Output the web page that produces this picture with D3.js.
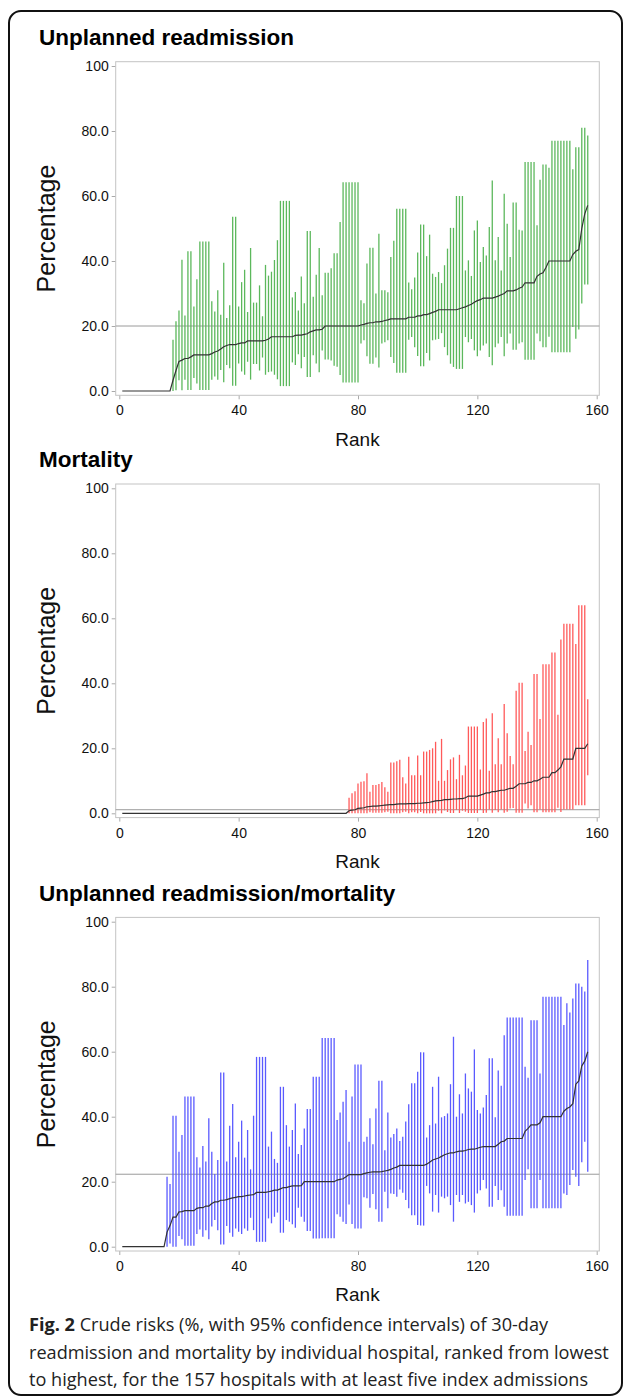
<!DOCTYPE html>
<html>
<head>
<meta charset="utf-8">
<script src="https://cdn.jsdelivr.net/npm/d3@7"></script>
<style>
body { margin: 0; background: #fff; }
svg text { font-family: "Liberation Sans", Arial, sans-serif; }
svg text.cap { font-family: "Open Sans", "Noto Sans", sans-serif; }
</style>
</head>
<body>
<svg id="fig" width="627" height="1398"></svg>
<script>
// values, one entry per hospital in rank order (1..157)

var xTicks = [0, 40, 80, 120, 160];
var yTicks = [0, 20, 40, 60, 80, 100];

// unplanned readmission
var readmRate = [
  0, 0, 0, 0, 0, 0, 0, 0, 0, 0, 0, 0, 0, 0, 0, 0, 0,
  3.3, 6.3, 9.1, 9.5, 10, 10, 10.5, 11.1, 11.1, 11.1, 11.1, 11.1, 11.1, 11.5, 12, 12.3, 12.9, 13.6, 14,
  14.3, 14.3, 14.3, 14.6, 14.8, 14.8, 15.4, 15.4, 15.4, 15.4, 15.4, 15.4, 15.6, 16,
  16.7, 16.7, 16.7, 16.7, 16.7, 16.7, 16.7, 16.7, 17.1, 17.2, 17.2, 17.4, 17.6, 18.2, 18.5, 18.8, 18.8, 19,
  20, 20, 20, 20, 20, 20, 20, 20, 20, 20, 20, 20,
  20.3, 20.5, 20.8, 21, 21, 21.3, 21.3, 21.4, 21.7, 21.9, 22.2, 22.2, 22.2, 22.2, 22.2, 22.2, 22.7, 22.7, 22.7,
  23.1, 23.1, 23.5, 23.5, 23.8, 24.2, 24.5, 25, 25, 25, 25, 25, 25, 25, 25.3, 25.6, 25.9, 26.3, 26.7, 27.3,
  27.8, 28.1, 28.6, 28.6, 28.6, 28.6, 28.9, 29.2, 29.6, 30,
  30.8, 30.8, 30.8, 31.1, 31.6, 32, 33.3, 33.3, 33.3, 33.3, 35.3, 36, 36.4, 38,
  40, 40, 40, 40, 40, 40, 40, 40, 42, 43, 43.5, 50, 54.5, 57.1
];
var readmLo = [
  null, null, null, null, null, null, null, null, null, null, null, null, null, null, null, null, null,
  0, 0.2, 3.3, 0.2, 3.5, 0.3, 0.3, 4, 2.3, 0.3, 0.3, 0.3, 0.3, 3.5, 4.5, 3.5, 6.5, 2.7, 8, 7,
  1.6, 1.6, 8.5, 6, 5, 9, 3.5, 8.3, 8.3, 6.3, 10.3, 5, 5.8, 6, 5, 3.6, 1.5, 1.5, 1.5, 1.5,
  8.8, 8, 11.3, 7, 10.5, 4.3, 4.3, 11, 8.5, 5.8, 12.5, 9.7, 9.7, 9.4, 7.8, 7.5, 4.9,
  2.6, 2.6, 2.6, 2.6, 2.6, 2.6,
  14.6, 15.6, 10.7, 8.4, 8.4, 10.3, 7.2, 14.6, 15, 15.6, 10.5, 8.6, 5.6, 5.6, 5.6, 5.6, 15.8, 16.6, 13.5,
  10.8, 7.6, 7.6, 11.7, 9.4, 15.6, 15.8, 16, 17.8, 13.5, 11, 8.4, 7.4, 6.8, 6.8, 6.8, 16.6, 15, 16, 12.5,
  10.7, 12.5, 14, 14.6, 10.5, 7.9, 13.5, 14.6, 16.6, 10.7,
  14.6, 17.7, 12.7, 12.7, 14.6, 15, 9.6, 9.6, 9.6, 9.6, 17.7, 15.3, 13.5, 13.5,
  16.7, 11.9, 11.9, 11.9, 11.9, 11.9, 11.9, 11.9, 19.7, 16.1, 18.9, 26.9, 32.8, 32.8
];
var readmHi = [
  null, null, null, null, null, null, null, null, null, null, null, null, null, null, null, null, null,
  15.8, 21.5, 24.8, 40.4, 23.2, 43, 43, 26, 34.4, 46, 46, 46, 46, 27.6, 24.5, 31, 23.5, 39.5, 22.5, 26.4,
  53.6, 53.6, 26, 33.5, 37.3, 24.3, 44, 27.2, 27.2, 32.5, 23, 38.8, 35.5, 36.7, 40.3, 46.4, 58.5, 58.5, 58.5, 58.5,
  28.8, 30.5, 24.8, 35.2, 27, 49.2, 49.2, 29, 35.8, 44, 29.5, 36.4, 36.4, 37.8, 42.4, 42.4, 52,
  64.2, 64.2, 64.2, 64.2, 64.2, 64.2,
  27.9, 27, 39.2, 44.1, 44.1, 30, 48.4, 31, 31, 30.4, 41.2, 46.2, 56.1, 56.1, 56.1, 56.1, 33.4, 31.3, 34.9,
  42.6, 51.2, 51.2, 41.5, 48.1, 36.1, 35.1, 36.6, 33.2, 38.7, 43.8, 50.2, 50.2, 60, 60, 60, 37.1, 40.2, 35.4, 49.4,
  52.5, 39.7, 44.3, 41.7, 50.5, 64.8, 40.2, 47.4, 37.1, 60.7,
  51.5, 41.2, 58, 58, 49.6, 49.4, 70.5, 70.5, 70.5, 70.5, 51, 65, 69.7, 69.7,
  68.7, 77, 77, 77, 77, 77, 77, 77, 68.2, 75, 75, 81, 81, 78.6
];
var readmRef = 20.0;

// mortality
var mortRate = [
  0, 0, 0, 0, 0, 0, 0, 0, 0, 0, 0, 0, 0, 0, 0, 0, 0, 0, 0, 0, 0, 0, 0, 0, 0, 0,
  0, 0, 0, 0, 0, 0, 0, 0, 0, 0, 0, 0, 0, 0, 0, 0, 0, 0, 0, 0, 0, 0, 0, 0, 0,
  0, 0, 0, 0, 0, 0, 0, 0, 0, 0, 0, 0, 0, 0, 0, 0, 0, 0, 0, 0, 0, 0, 0, 0, 0,
  0.8, 1.0, 1.1, 1.5, 1.6, 1.7, 2.0, 2.1, 2.2, 2.2,
  2.3, 2.4, 2.5, 2.6, 2.7, 2.7, 2.8, 2.9, 2.9, 2.9,
  3.0, 3.0, 3.0, 3.1, 3.1, 3.2, 3.3, 3.4, 3.6, 3.8,
  3.9, 4.0, 4.2, 4.2, 4.3, 4.4, 4.4, 4.5, 4.5, 4.8,
  5.3, 5.3, 5.3, 5.3, 5.6, 5.9, 6.3, 6.3, 6.7, 6.7,
  6.9, 7.1, 7.1, 7.4, 7.7, 7.7, 8.3, 9.1, 9.1, 9.1,
  9.5, 9.5, 10, 10, 10.5, 11.1, 11.1, 11.1, 12.5, 12.5,
  13.3, 14.3, 16.7, 16.7, 16.7, 16.7, 20, 20, 20, 20,
  21.4
];
var mortLo = [
  null, null, null, null, null, null, null, null, null, null, null, null, null, null, null, null, null, null, null, null, null, null, null, null, null, null,
  null, null, null, null, null, null, null, null, null, null, null, null, null, null, null, null, null, null, null, null, null, null, null, null, null,
  null, null, null, null, null, null, null, null, null, null, null, null, null, null, null, null, null, null, null, null, null, null, null, null, null,
  0, 0, 0, 0, 0, 0, 0, 0.3, 0.2, 0.2,
  0.2, 0.2, 0.3, 0.5, 0, 0, 0, 0, 0.3, 0.5,
  0, 0.3, 0.3, 0, 0.4, 0, 0, 0, 0, 0,
  0.8, 0, 0.9, 0.4, 0.1, 0.1, 1, 0.1, 0.8, 0.5,
  0.1, 0.1, 0.1, 0.1, 1, 0.1, 0.2, 1.2, 0.2, 1,
  0.3, 1.2, 0.2, 0.5, 1.5, 1.6, 0.2, 0.2, 0.2, 3,
  1.5, 2.5, 0.3, 0.3, 1.2, 0.3, 0.3, 0.3, 0.3, 0.3,
  1.7, 0.4, 1.2, 1.2, 1.2, 1.2, 2.5, 2.5, 2.5, 2.5,
  11.7
];
var mortHi = [
  null, null, null, null, null, null, null, null, null, null, null, null, null, null, null, null, null, null, null, null, null, null, null, null, null, null,
  null, null, null, null, null, null, null, null, null, null, null, null, null, null, null, null, null, null, null, null, null, null, null, null, null,
  null, null, null, null, null, null, null, null, null, null, null, null, null, null, null, null, null, null, null, null, null, null, null, null, null,
  4.8, 6.2, 6.8, 9.2, 9.7, 9.9, 12.3, 6.6, 8.7, 8.7,
  9, 9.6, 8, 6.6, 15.6, 15.6, 16, 16.5, 11.1, 9.2,
  17.4, 11.7, 11.7, 17.8, 11.7, 19, 19, 19.5, 20, 22,
  10, 22.9, 10, 13.3, 16.6, 17.2, 10.5, 18, 11.7, 14.7,
  26.7, 26.7, 26.7, 26.7, 13.5, 28.1, 29.2, 13.1, 30.8, 15.1,
  23.1, 15.1, 33.6, 24.6, 17.6, 15.1, 37.7, 40.2, 40.2, 19.2,
  25.1, 21, 42.9, 42.9, 29, 45.9, 45.9, 45.9, 49.5, 49.5,
  30.3, 53.5, 58.3, 58.3, 58.3, 58.3, 52.1, 64, 64, 64,
  35.1
];
var mortRef = 1.1;

// unplanned readmission/mortality
var combRate = [
  0, 0, 0, 0, 0, 0, 0, 0, 0, 0, 0, 0, 0, 0, 0,
  4.5, 6.5, 9.1, 9.1, 10.7, 10.8, 11.1, 11.1, 11.1, 11.1,
  11.8, 12, 12, 12.5, 12.5, 13.3, 13.8, 13.8, 14.3, 14.3,
  14.5, 14.8, 15, 15.2, 15.4, 15.4, 15.6, 15.8, 15.9, 16,
  16.7, 16.7, 16.7, 16.7, 16.9, 17.1, 17.4, 17.4, 17.8, 18.2,
  18.2, 18.5, 18.7, 18.7, 18.7, 18.8, 20, 20, 20, 20,
  20, 20, 20, 20, 20, 20, 20, 20.5, 20.7, 20.9,
  21.5, 22.2, 22.2, 22.2, 22.2, 22.2, 22.5, 22.7, 22.9, 23,
  23, 23, 23.1, 23.3, 23.5, 23.8, 24.2, 24.5, 25, 25,
  25, 25, 25, 25, 25, 25, 25, 25.4, 26, 26.7,
  27, 27.3, 27.8, 28.3, 28.6, 28.9, 28.9, 29.2, 29.4, 29.4,
  29.6, 29.9, 30, 30, 30.3, 30.6, 30.8, 30.8, 30.8, 30.8,
  30.8, 31.5, 32.3, 32.5, 33.3, 33.3, 33.3, 33.3, 33.3, 33.3,
  35.5, 36.4, 37.5, 37.5, 37.5, 38.1, 40, 40, 40, 40,
  40, 40, 40, 41.7, 42.5, 43, 44, 50, 51, 55.6,
  57.1, 60
];
var combLo = [
  null, null, null, null, null, null, null, null, null, null, null, null, null, null, null,
  0, 1, 0, 0, 3.3, 2.3, 0.3, 0.3, 0.3, 0.3,
  3.9, 5.3, 3.1, 5.1, 2.3, 6.2, 8.2, 5.1, 0.7, 0.7,
  6.4, 4.3, 3.1, 5.6, 4.6, 3.9, 5.6, 4.9, 8.9, 5.1,
  1.5, 1.5, 1.5, 1.5, 8.7, 7.2, 9.2, 10.5, 4.3, 4.3,
  8.2, 7.7, 6.9, 5.8, 12, 9.2, 7.7, 4.8, 4.8, 2.5,
  2.5, 2.5, 2.6, 2.6, 2.6, 2.6, 2.6, 10, 9.2, 7.7,
  7, 13, 7, 5.6, 5.6, 5.6, 15.2, 14.9, 12, 16.2,
  11.5, 7.7, 7.7, 16.9, 11.8, 16.4, 16.2, 15.4, 17.6, 16.6,
  14.4, 11.8, 9.7, 9.7, 6.7, 6.5, 6.5, 18.7, 16.4, 10.8,
  15.9, 10.5, 15.4, 14.9, 15.4, 12.8, 7.7, 15.9, 13.8, 15.9,
  13.3, 13.8, 12.8, 10.5, 16.4, 17.4, 20.5, 17.9, 12.3, 12.3,
  18.7, 14.4, 17.4, 12.3, 9.5, 9.5, 9.5, 9.5, 9.5, 9.5,
  20.5, 23.8, 11.8, 11.8, 11.8, 20.5, 11.8, 11.8, 11.8, 11.8,
  11.8, 11.8, 11.8, 16.4, 15.9, 19, 23.6, 21.5, 18.7, 26,
  32.3, 23.1
];
var combHi = [
  null, null, null, null, null, null, null, null, null, null, null, null, null, null, null,
  21.5, 19.3, 40.3, 40.3, 29.2, 34.4, 46.2, 46.2, 46.2, 46.2,
  27.5, 24.4, 31, 26.2, 39.5, 29.2, 22.4, 26.7, 53.6, 53.6,
  26.2, 37.2, 43.9, 27.5, 32.3, 38.8, 27.4, 35.9, 23.8, 40.3,
  58.4, 58.4, 58.4, 58.4, 30.8, 35.4, 27, 25.8, 49.2, 49.2,
  37.4, 30.8, 35.9, 44.1, 28.5, 31.3, 36.4, 42.4, 42.4, 52.3,
  52.3, 52.3, 64.2, 64.2, 64.2, 64.2, 64.2, 39, 41.3, 44.6,
  48.2, 32.3, 46.2, 56.1, 56.1, 56.1, 32.3, 33.8, 39.5, 31.5,
  42.5, 51.1, 51.1, 29.7, 41.3, 33.6, 34.7, 36.4, 32.5, 33.8,
  38.5, 43.8, 50.3, 50.3, 53.8, 59.8, 59.8, 33.6, 37.4, 49.2,
  37.9, 52.3, 39.8, 40.2, 41, 50, 64.6, 40, 46.9, 41,
  53.3, 48.7, 47.7, 60.7, 42.1, 41, 42.8, 46.7, 58, 58,
  39.8, 54.2, 49.5, 65.1, 70.5, 70.5, 70.5, 70.5, 70.5, 70.5,
  55.4, 52, 69.7, 69.7, 69.7, 53.3, 76.9, 76.9, 76.9, 76.9,
  76.9, 76.9, 76.9, 68.2, 74.9, 72.1, 76.4, 81, 81, 80,
  78.5, 88.2
];
var combRef = 22.3;

var panels = [
  { title: "Unplanned readmission", rate: readmRate, lo: readmLo, hi: readmHi, ref: readmRef, color: "#5cb85c", top: 66 },
  { title: "Mortality", rate: mortRate, lo: mortLo, hi: mortHi, ref: mortRef, color: "#ff5a5a", top: 488.3 },
  { title: "Unplanned readmission/mortality", rate: combRate, lo: combLo, hi: combHi, ref: combRef, color: "#5a5aff", top: 921.7 }
];

var svg = d3.select("#fig");

// outer rounded box
svg.append("rect")
  .attr("x", 9).attr("y", 11)
  .attr("width", 613).attr("height", 1384)
  .attr("rx", 12)
  .attr("fill", "none")
  .attr("stroke", "#111")
  .attr("stroke-width", 2);

var frameL = 115.7, frameR = 599.3;
var x = d3.scaleLinear().domain([0, 160]).range([119.3, 596.7]);

function drawPanel(p) {
  var y = d3.scaleLinear().domain([0, 100]).range([p.top + 325, p.top]);
  var g = svg.append("g");
  var fTop = p.top - 4.3, fBot = p.top + 329.3;

  g.append("text")
    .attr("x", 39).attr("y", p.top - 21)
    .attr("font-size", 22.5).attr("font-weight", "bold")
    .attr("fill", "#000")
    .text(p.title);

  // axes
  var ya = g.append("g").attr("transform", "translate(" + frameL + ",0)")
    .call(d3.axisLeft(y).tickValues(yTicks).tickSize(4).tickPadding(3)
      .tickFormat(function (v) { return v == 100 ? "100" : d3.format(".1f")(v); }));
  var xa = g.append("g").attr("transform", "translate(0," + fBot + ")")
    .call(d3.axisBottom(x).tickValues(xTicks).tickSize(4).tickPadding(6));
  [ya, xa].forEach(function (a) {
    a.select(".domain").remove();
    a.selectAll("line").attr("stroke", "#aaa");
    a.selectAll("text").attr("font-size", 14).attr("fill", "#111")
      .attr("font-family", "'Liberation Sans', Arial, sans-serif");
  });

  // frame
  g.append("rect")
    .attr("x", frameL).attr("y", fTop)
    .attr("width", frameR - frameL).attr("height", fBot - fTop)
    .attr("fill", "none").attr("stroke", "#c4c4c4").attr("stroke-width", 1);

  // reference line (overall risk)
  g.append("line")
    .attr("x1", frameL).attr("x2", frameR)
    .attr("y1", y(p.ref)).attr("y2", y(p.ref))
    .attr("stroke", "#9a9a9a").attr("stroke-width", 1);

  // confidence intervals
  var idx = d3.range(p.rate.length).filter(function (i) { return p.lo[i] != null; });
  g.selectAll(".ci").data(idx).enter().append("line")
    .attr("class", "ci")
    .attr("x1", function (i) { return x(i + 1); })
    .attr("x2", function (i) { return x(i + 1); })
    .attr("y1", function (i) { return y(p.lo[i]); })
    .attr("y2", function (i) { return y(p.hi[i]); })
    .attr("stroke", p.color)
    .attr("stroke-width", 1.3);

  // crude risk line
  var line = d3.line()
    .x(function (d, i) { return x(i + 1); })
    .y(function (d) { return y(d); });
  g.append("path")
    .datum(p.rate)
    .attr("d", line)
    .attr("fill", "none")
    .attr("stroke", "#333")
    .attr("stroke-width", 1.2);

  g.append("text")
    .attr("x", (frameL + frameR) / 2).attr("y", p.top + 325 + 54.5)
    .attr("text-anchor", "middle")
    .attr("font-size", 19).attr("fill", "#111")
    .text("Rank");

  g.append("text")
    .attr("transform", "translate(55," + (p.top + 162.5) + ") rotate(-90)")
    .attr("text-anchor", "middle")
    .attr("font-size", 25).attr("fill", "#111")
    .text("Percentage");
}

panels.forEach(drawPanel);

// caption
var capLines = [
  ["Fig. 2", " Crude risks (%, with 95% confidence intervals) of 30-day"],
  ["", "readmission and mortality by individual hospital, ranked from lowest"],
  ["", "to highest, for the 157 hospitals with at least five index admissions"]
];
var cap = svg.append("g").attr("fill", "#222");
var capText = capLines.map(function (l, k) {
  var t = cap.append("text").attr("class", "cap")
    .attr("x", 29).attr("y", 1331 + k * 27.5).attr("font-size", 17);
  if (l[0]) t.append("tspan").attr("font-weight", "bold").text(l[0]);
  t.append("tspan").text(l[1]);
  return t;
});
// line 2 runs to about x = 609 in the figure
var w2 = capText[1].node().getComputedTextLength();
var capSize = 17 * 580 / w2;
capText.forEach(function (t) { t.attr("font-size", capSize); });
</script>
</body>
</html>
